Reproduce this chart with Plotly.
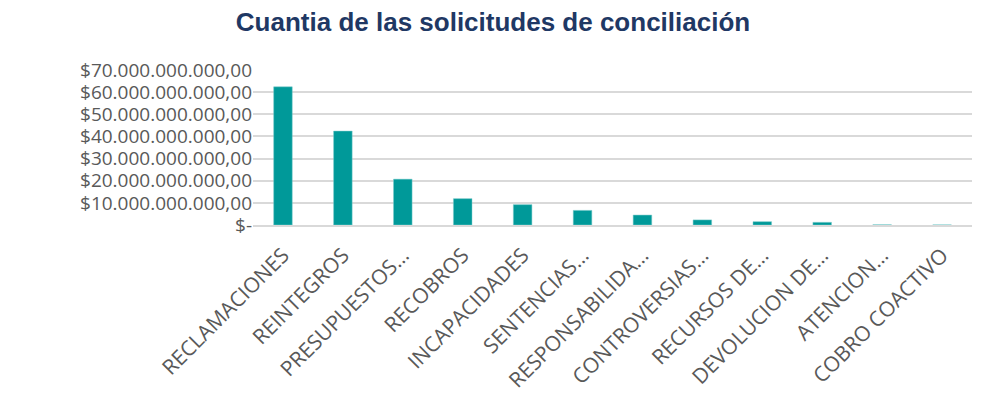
import plotly.graph_objects as go

categories = ["RECLAMACIONES", "REINTEGROS", "PRESUPUESTOS…", "RECOBROS", "INCAPACIDADES",
              "SENTENCIAS…", "RESPONSABILIDA…", "CONTROVERSIAS…", "RECURSOS DE…",
              "DEVOLUCION DE…", "ATENCION…", "COBRO COACTIVO"]
values = [62.4e9, 42.4e9, 20.7e9, 11.9e9, 9.2e9, 6.6e9, 4.5e9, 2.3e9, 1.5e9, 1.2e9, 0.1e9, 0.05e9]
tick_vals = [0, 10e9, 20e9, 30e9, 40e9, 50e9, 60e9, 70e9]
tick_text = ["$-", "$10.000.000.000,00", "$20.000.000.000,00", "$30.000.000.000,00",
             "$40.000.000.000,00", "$50.000.000.000,00", "$60.000.000.000,00", "$70.000.000.000,00"]

fig = go.Figure(go.Bar(x=categories, y=values, marker_color="#009999",
                       marker_line_color="#7fcccc", marker_line_width=0.5))
fig.update_layout(
    width=987, height=400,
    paper_bgcolor="white", plot_bgcolor="white",
    margin=dict(l=245, r=23, t=62, b=183),
    bargap=0.69,
    title=dict(text="<b>Cuantia de las solicitudes de conciliación</b>", x=(493 - 8) / 987, xref="container",
               xanchor="center", y=1 - 14 / 400, yref="container", yanchor="middle",
               font=dict(family="Liberation Sans, Arial", size=26, color="#1f3864")),
    font=dict(family="Open Sans", color="#595959"),
    showlegend=False,
)
fig.update_yaxes(range=[0, 70e9], tickvals=tick_vals, ticktext=tick_text, automargin=False,
                 showgrid=True, gridcolor="#d9d9d9", gridwidth=1.5,
                 tickfont=dict(size=19, color="#595959"), zeroline=False, ticks="")
fig.update_xaxes(tickangle=-45, tickfont=dict(size=21, color="#595959"), automargin=False,
                 ticklabelstandoff=8,
                 showline=True, linecolor="#d9d9d9", linewidth=1.5)
fig.write_html("out.html")
